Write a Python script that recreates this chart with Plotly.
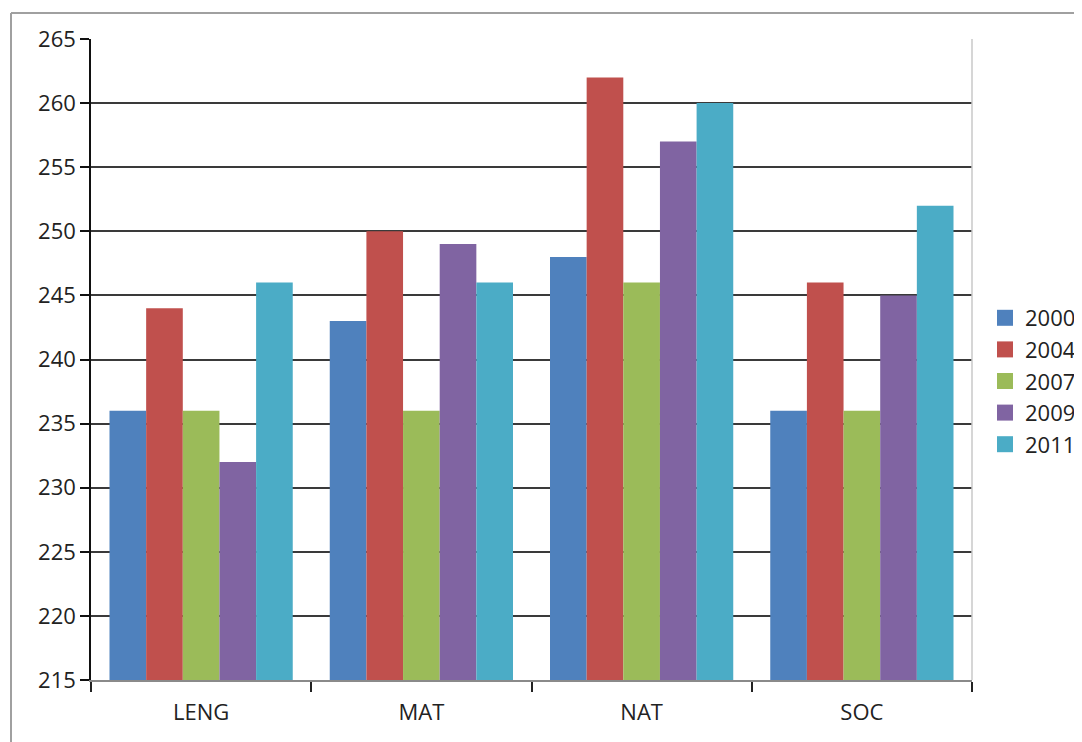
import plotly.graph_objects as go

categories = ["LENG", "MAT", "NAT", "SOC"]
years = ["2000", "2004", "2007", "2009", "2011"]
v2000 = [236, 243, 248, 236]
v2004 = [244, 250, 262, 246]
v2007 = [236, 236, 246, 236]
v2009 = [232, 249, 257, 245]
v2011 = [246, 246, 260, 252]
series = [v2000, v2004, v2007, v2009, v2011]
colors = ["#4F81BD", "#C0504D", "#9BBB59", "#8064A2", "#4BACC6"]

OFF = 8  # page body margin
W, H = 1082 - OFF, 742 - OFF
L, T = 91 - OFF, 39 - OFF
R = W - (972 - OFF)
B = H - (680 - OFF)
pw, ph = W - L - R, H - T - B

def px(x):
    return (x - OFF - L) / pw

def py(y):
    return (H - B - (y - OFF)) / ph

fig = go.Figure()
for name, vals, c in zip(years, series, colors):
    fig.add_trace(go.Bar(x=categories, y=vals, name=name, showlegend=False,
                         marker=dict(color=c, line=dict(width=0))))
for name, c in zip(years, colors):
    fig.add_trace(go.Scatter(x=[None], y=[None], mode="markers", name=name,
                             marker=dict(symbol="square", size=17, color=c)))

font = dict(family="Open Sans, sans-serif", size=22, color="#222222")
fig.update_layout(
    width=W, height=H,
    margin=dict(l=L, r=R, t=T, b=B, pad=0, autoexpand=False),
    paper_bgcolor="white", plot_bgcolor="white",
    barmode="group", bargap=0.168, bargroupgap=0,
    font=font,
    showlegend=True,
    legend=dict(x=px(985), y=py(297), xanchor="left", yanchor="top",
                font=font, bgcolor="rgba(0,0,0,0)", itemwidth=30),
    xaxis=dict(showgrid=False, showline=True, linecolor="#8a8a8a", linewidth=2,
               ticks="outside", tickson="boundaries", ticklen=10, tickcolor="#222222",
               tickwidth=1.5, tickfont=font, mirror=False, ticklabelstandoff=12),
    yaxis=dict(range=[215, 265], dtick=5, showgrid=True, gridcolor="#3a3a3a", gridwidth=2,
               showline=True, linecolor="#111111", linewidth=1.5,
               ticks="outside", ticklen=9, tickcolor="#111111", tickwidth=1.5,
               tickfont=font, zeroline=False),
    shapes=[
        dict(type="line", xref="paper", yref="paper", x0=px(972), x1=px(972), y0=0, y1=1,
             line=dict(color="#c8c8c8", width=1.5)),
        dict(type="line", xref="paper", yref="paper", x0=px(11), x1=px(11), y0=py(13), y1=py(760),
             line=dict(color="#a0a0a0", width=2)),
        dict(type="line", xref="paper", yref="paper", x0=px(11), x1=px(1100), y0=py(13), y1=py(13),
             line=dict(color="#a0a0a0", width=2)),
    ],
)
fig.write_html("out.html")
